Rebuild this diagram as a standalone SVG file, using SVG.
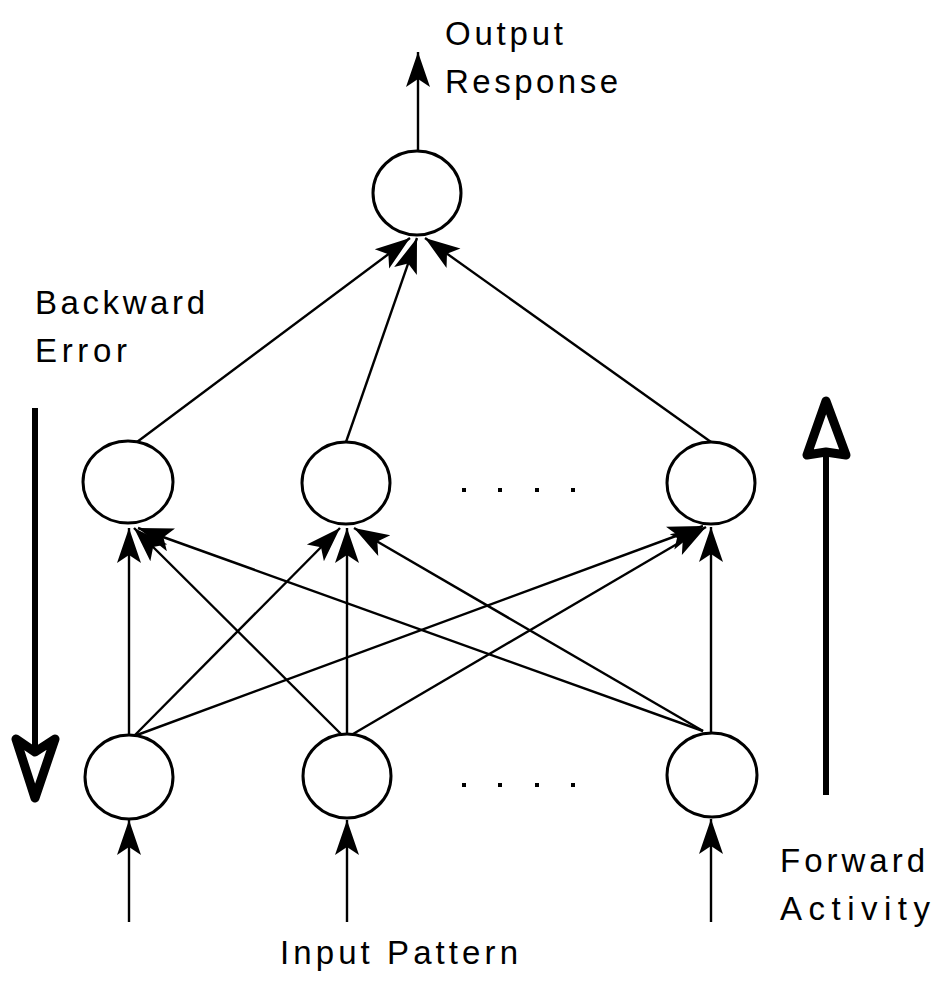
<svg xmlns="http://www.w3.org/2000/svg" width="940" height="983" viewBox="0 0 940 983">
  <defs>
    <style>
      .node { fill: #fff; stroke: #000; stroke-width: 3; }
      .link { stroke: #000; stroke-width: 2.4; fill: none; }
      .label { font-family: "Liberation Sans", Arial, sans-serif; font-size: 33px; fill: #000; }
      .dot { fill: #000; }
      .bigline { stroke: #000; stroke-width: 6; fill: none; }
      .bighead { fill: #fff; stroke: #000; stroke-width: 9; stroke-linejoin: round; }
    </style>
    <marker id="head" viewBox="-38 -14 40 28" markerWidth="40" markerHeight="28" refX="0" refY="0" orient="auto" markerUnits="userSpaceOnUse">
      <path d="M0,0 L-35,-12 L-27,0 L-35,12 Z" fill="#000"/>
    </marker>
  </defs>

  <!-- connectors -->
  <g id="connectors">
    <!-- output response -->
    <line class="link" x1="418" y1="150" x2="418" y2="52" marker-end="url(#head)"/>
    <!-- hidden to output -->
    <line class="link" x1="137" y1="442" x2="410" y2="238" marker-end="url(#head)"/>
    <line class="link" x1="346" y1="442" x2="417" y2="238" marker-end="url(#head)"/>
    <line class="link" x1="711" y1="442" x2="425" y2="238" marker-end="url(#head)"/>
    <!-- input to hidden -->
    <line class="link" x1="129" y1="735" x2="129" y2="528" marker-end="url(#head)"/>
    <line class="link" x1="135" y1="735" x2="340" y2="528" marker-end="url(#head)"/>
    <line class="link" x1="137" y1="735" x2="703" y2="526" marker-end="url(#head)"/>
    <line class="link" x1="341" y1="734" x2="134" y2="528" marker-end="url(#head)"/>
    <line class="link" x1="347" y1="734" x2="347" y2="528" marker-end="url(#head)"/>
    <line class="link" x1="353" y1="734" x2="706" y2="527" marker-end="url(#head)"/>
    <line class="link" x1="703" y1="731" x2="138" y2="528" marker-end="url(#head)"/>
    <line class="link" x1="703" y1="731" x2="354" y2="528" marker-end="url(#head)"/>
    <line class="link" x1="711" y1="733" x2="711" y2="527" marker-end="url(#head)"/>
    <!-- input pattern -->
    <line class="link" x1="129" y1="922" x2="129" y2="820" marker-end="url(#head)"/>
    <line class="link" x1="347" y1="922" x2="347" y2="820" marker-end="url(#head)"/>
    <line class="link" x1="711" y1="922" x2="711" y2="819" marker-end="url(#head)"/>
  </g>

  <!-- nodes -->
  <g id="output-node">
    <ellipse class="node" cx="417" cy="193" rx="44" ry="42"/>
  </g>
  <g id="hidden-1"><ellipse class="node" cx="128" cy="482" rx="45" ry="41"/></g>
  <g id="hidden-2"><ellipse class="node" cx="346" cy="483" rx="44" ry="41"/></g>
  <g id="hidden-3"><ellipse class="node" cx="711" cy="483" rx="44" ry="41"/></g>
  <g id="input-1"><ellipse class="node" cx="129" cy="777" rx="44" ry="42"/></g>
  <g id="input-2"><ellipse class="node" cx="347" cy="776" rx="44" ry="42"/></g>
  <g id="input-3"><ellipse class="node" cx="712" cy="775" rx="45" ry="42"/></g>

  <!-- ellipsis dots -->
  <g id="dots">
    <rect class="dot" x="462" y="488" width="4" height="4"/>
    <rect class="dot" x="498" y="488" width="4" height="4"/>
    <rect class="dot" x="535" y="488" width="4" height="4"/>
    <rect class="dot" x="571" y="488" width="4" height="4"/>
    <rect class="dot" x="462" y="783" width="4" height="4"/>
    <rect class="dot" x="498" y="783" width="4" height="4"/>
    <rect class="dot" x="535" y="783" width="4" height="4"/>
    <rect class="dot" x="571" y="783" width="4" height="4"/>
  </g>

  <!-- backward error arrow -->
  <g id="backward-arrow">
    <line class="bigline" x1="35" y1="408" x2="35" y2="752"/>
    <path class="bighead" d="M35,752 L16,739 L35,798 L55,739 Z"/>
  </g>

  <!-- forward activity arrow -->
  <g id="forward-arrow">
    <line class="bigline" x1="826" y1="795" x2="826" y2="452"/>
    <path class="bighead" d="M826,452 L807,455 L826,401 L846,455 Z"/>
  </g>

  <!-- labels -->
  <g id="labels">
    <text class="label" x="445" y="45" textLength="118" lengthAdjust="spacing">Output</text>
    <text class="label" x="445" y="93" textLength="173" lengthAdjust="spacing">Response</text>
    <text class="label" x="35" y="314" textLength="170" lengthAdjust="spacing">Backward</text>
    <text class="label" x="35" y="362" textLength="92" lengthAdjust="spacing">Error</text>
    <text class="label" x="780" y="872" textLength="145" lengthAdjust="spacing">Forward</text>
    <text class="label" x="780" y="920" textLength="150" lengthAdjust="spacing">Activity</text>
    <text class="label" x="280" y="964" textLength="238" lengthAdjust="spacing">Input Pattern</text>
  </g>
</svg>
